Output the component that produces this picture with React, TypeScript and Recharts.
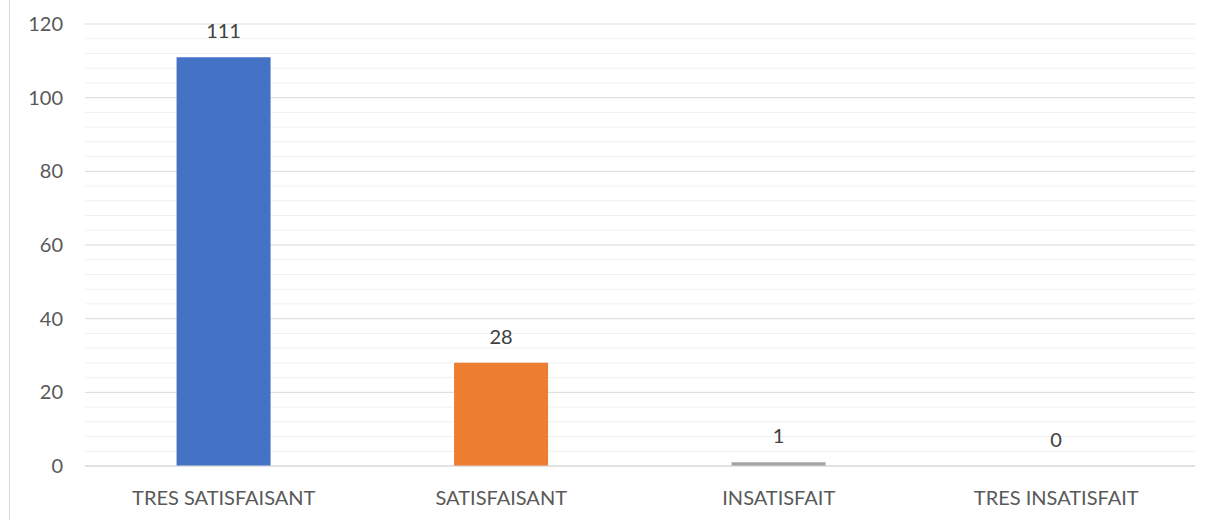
import { BarChart, Bar, XAxis, YAxis, CartesianGrid, Cell, LabelList } from "recharts";

const categories = ["TRES SATISFAISANT", "SATISFAISANT", "INSATISFAIT", "TRES INSATISFAIT"];
const values = [111, 28, 1, 0];
const colors = ["#4472C4", "#ED7D31", "#A5A5A5", "#FFC000"];
const yTicks = [0, 20, 40, 60, 80, 100, 120];
const minorTicks = [4, 8, 12, 16, 24, 28, 32, 36, 44, 48, 52, 56, 64, 68, 72, 76, 84, 88, 92, 96, 104, 108, 112, 116];

const data = categories.map((name, i) => ({ name, value: values[i] }));

const font = "Lato, 'Open Sans', sans-serif";
const yMax = yTicks[yTicks.length - 1];

// minor grid rows, mapped onto the plot area of the same 0..120 axis
const minorLines = ({ offset }: any) =>
  minorTicks.map((t) => offset.top + offset.height * (1 - t / yMax));

const App = () => {
  return (
    <div style={{ position: "absolute", left: 0, top: 0, width: 1215, height: 520, background: "#fff" }}>
      <div style={{ position: "absolute", left: 9, top: 0, width: 1, height: 520, background: "#d9d9d9" }} />
      <BarChart
        width={1215}
        height={520}
        data={data}
        margin={{ top: 24, right: 20, bottom: 0, left: 0 }}
        barCategoryGap="33%"
      >
        <CartesianGrid vertical={false} stroke="#f0f0f0" horizontalCoordinatesGenerator={minorLines} />
        <CartesianGrid vertical={false} stroke="#d9d9d9" />
        <XAxis
          dataKey="name"
          height={54}
          axisLine={{ stroke: "#d9d9d9" }}
          tickLine={false}
          tickSize={0}
          tickMargin={25}
          tick={{ fill: "#595959", fontSize: 20, fontFamily: font }}
        />
        <YAxis
          width={85}
          domain={[0, yMax]}
          ticks={yTicks}
          axisLine={false}
          tickLine={false}
          tickSize={0}
          tickMargin={22}
          tick={{ fill: "#595959", fontSize: 20, fontFamily: font }}
        />
        <Bar dataKey="value" isAnimationActive={false} minPointSize={(v: number) => (v === 0 ? 0.01 : 0)}>
          {data.map((d, i) => (
            <Cell key={d.name} fill={colors[i]} />
          ))}
          <LabelList
            dataKey="value"
            position="top"
            offset={19}
            style={{ fill: "#404040", fontSize: 20, fontFamily: font }}
          />
        </Bar>
      </BarChart>
    </div>
  );
};

export default App;
